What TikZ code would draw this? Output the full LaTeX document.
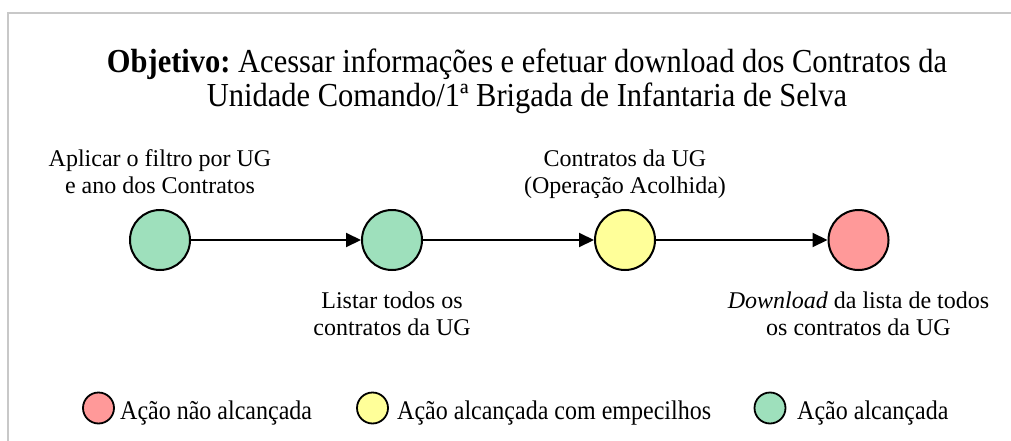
\documentclass[tikz,border=0pt]{standalone}
\usepackage{fontspec}
\setmainfont{Liberation Serif}
\usetikzlibrary{arrows.meta}
\definecolor{cgreen}{RGB}{158,224,188}
\definecolor{cyellow}{RGB}{255,255,153}
\definecolor{cred}{RGB}{255,153,153}
\definecolor{framegray}{RGB}{200,200,200}
\newcommand{\tallkey}[1]{\scalebox{1}[1.12]{#1}}
\frenchspacing
\begin{document}
\begin{tikzpicture}[x=1pt,y=-1pt,
  state/.style={circle, draw=black, line width=2pt, minimum size=60pt, inner sep=0pt},
  key/.style={circle, draw=black, line width=1.8pt, minimum size=31pt, inner sep=0pt},
  flow/.style={line width=2pt, -{Triangle[length=15pt,width=14pt]}},
  lbl/.style={align=center, font=\fontsize{24}{27}\selectfont, inner sep=0pt},
  keytext/.style={anchor=base west, font=\fontsize{24}{27}\selectfont, inner sep=0pt},
  titletext/.style={font=\fontsize{30.5}{30.2}\selectfont, inner sep=0pt},
]
\useasboundingbox (0,0) rectangle (1011,441);
\draw[framegray, line width=2pt] (8,441) -- (8,13) -- (1011,13);

\node[titletext, anchor=center] (title) at (527,82.5)
  {\scalebox{1}[1.1]{\begin{tabular}{@{}c@{}}\textbf{Objetivo:} Acessar informações e efetuar download dos Contratos da\\
   Unidade Comando/1ª Brigada de Infantaria de Selva\end{tabular}}};

\node[state, fill=cgreen]  (s1) at (160,240) {};
\node[state, fill=cgreen]  (s2) at (392,240) {};
\node[state, fill=cyellow] (s3) at (625,240) {};
\node[state, fill=cred]    (s4) at (858.5,240) {};

\draw[flow] (s1) -- (s2);
\draw[flow] (s2) -- (s3);
\draw[flow] (s3) -- (s4);

\node[lbl, anchor=north] (l1) at (160,149.5) {Aplicar o filtro por UG\\e ano dos Contratos};
\node[lbl, anchor=north] (l3) at (625,149.5) {Contratos da UG\\(Operação Acolhida)};
\node[lbl, anchor=north] (l2) at (392,291.5) {Listar todos os\\contratos da UG};
\node[lbl, anchor=north] (l4) at (858.5,291.5) {\textit{Download} da lista de todos\\os contratos da UG};

\node[key, fill=cred]    (k1) at (98.5,408) {};
\node[keytext] (t1) at (120,419) {\tallkey{Ação não alcançada}};
\node[key, fill=cyellow] (k2) at (372.5,408) {};
\node[keytext] (t2) at (397,419) {\tallkey{Ação alcançada com empecilhos}};
\node[key, fill=cgreen]  (k3) at (770,408) {};
\node[keytext] (t3) at (797,419) {\tallkey{Ação alcançada}};
\end{tikzpicture}
\end{document}
